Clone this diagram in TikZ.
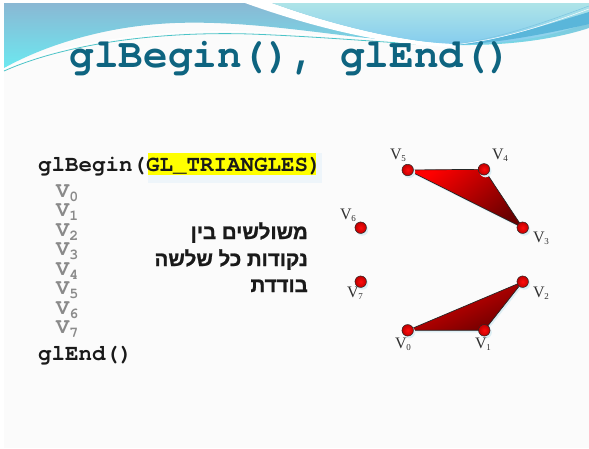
\documentclass[tikz,border=0pt]{standalone}
\usepackage{fontspec}
\setmainfont{Liberation Serif}
\newfontfamily\codefont{texgyrecursor}[Extension=.otf, UprightFont=*-regular, BoldFont=*-bold]
\newfontfamily\hebfont[Script=Hebrew, BoldFont={Liberation Sans Bold}, BoldFeatures={FakeBold=1.2}]{Liberation Sans}
\TeXXeTstate=1
\definecolor{slidebg}{HTML}{FBFBFB}
\definecolor{bandtop}{HTML}{8AB8D4}
\definecolor{bandbot}{HTML}{6CE8F0}
\definecolor{wavetop}{HTML}{AEE4E8}
\definecolor{wavebot}{HTML}{84CCEE}
\definecolor{streak}{HTML}{5AB6DA}
\definecolor{thinline}{HTML}{4CC4C8}
\definecolor{titleblue}{HTML}{0E6480}
\definecolor{codeblack}{HTML}{1A1A1A}
\definecolor{vgray}{HTML}{8A8A8A}
\definecolor{hilite}{HTML}{FFFF00}
\definecolor{hiliteback}{HTML}{EEF5FA}
\definecolor{glow}{HTML}{DCEEF4}
\definecolor{redhi}{HTML}{FF0000}
\definecolor{redmid}{HTML}{DD0000}
\definecolor{redlo}{HTML}{6A0000}
\definecolor{labgray}{HTML}{303030}
% vertex label with a small lowered index
\newcommand\vlabel[1]{V\kern-0.3pt\raisebox{-2.2pt}{\fontsize{9}{9}\selectfont #1}}
% code index, lowered
\newcommand\codesub[1]{V\raisebox{-4pt}{\fontsize{15}{15}\selectfont #1}}
\tikzset{
  title/.style={font=\codefont\bfseries\fontsize{41}{41}\selectfont, text=titleblue, anchor=base, inner sep=0},
  code/.style={font=\codefont\bfseries\fontsize{22.5}{22.5}\selectfont, text=codeblack, anchor=base west, inner sep=0},
  vcode/.style={font=\codefont\bfseries\fontsize{22}{22}\selectfont, text=vgray, anchor=base west, inner sep=0},
  heb/.style={font=\hebfont\bfseries\fontsize{20.5}{20.5}\selectfont, text=codeblack, anchor=base east, inner sep=0},
  vlab/.style={font=\fontsize{16}{16}\selectfont, text=labgray, anchor=base west, inner sep=0},
  dot/.style={circle, inner sep=0, minimum size=11.5pt, draw=black!85, line width=0.5pt,
              inner color=red!95!white, outer color=red!75!black},
  dotglow/.style={circle, inner sep=0, minimum size=12pt, fill=glow},
  tri/.style={draw=black!85, line width=0.7pt, line join=round},
}
\begin{document}
\begin{tikzpicture}[x=1pt, y=-1pt]
\useasboundingbox (0,0) rectangle (589,448);
% slide background
\fill[white] (0,0) rectangle (589,448);
\fill[slidebg] (4,3) rectangle (589,448);

% header waves
\shade[top color=bandtop, bottom color=bandbot]
  (4,3) -- (589,3) -- (589,28) .. controls (540,44) and (480,47) .. (430,44)
  .. controls (340,38) and (260,20) .. (175,23)
  .. controls (100,26) and (40,48) .. (4,68) -- cycle;
\draw[thinline, line width=0.8pt]
  (4,71) .. controls (60,46) and (150,31) .. (250,34)
  .. controls (330,37) and (400,44) .. (455,46);
\draw[white, line width=1pt]
  (4,69) .. controls (60,44) and (150,29) .. (250,32)
  .. controls (330,35) and (400,42) .. (455,44);
\fill[white]
  (245,3) .. controls (320,30) and (400,48) .. (462,47) -- (455,44)
  .. controls (400,42) and (330,24) .. (272,3) -- cycle;
\shade[top color=wavetop, bottom color=wavebot]
  (272,3) .. controls (330,24) and (400,42) .. (455,44)
  .. controls (520,45) and (565,32) .. (589,22) -- (589,3) -- cycle;
\fill[streak]
  (589,12) .. controls (530,30) and (490,42) .. (455,45)
  .. controls (500,43) and (550,33) .. (589,24) -- cycle;
\draw[streak!80!white, line width=0.5pt]
  (589,6) .. controls (540,24) and (500,38) .. (452,45);
\draw[white, line width=0.5pt]
  (589,9) .. controls (540,27) and (500,40) .. (452,45);

% title
\node[title] (ttl) at (291,67) {glBegin(), glEnd()};

% code listing
\fill[hiliteback] (148,153) rectangle (322,183);
\fill[hilite] (148,153) rectangle (316,175);
\node[code] (cbegin) at (38,171.7) {glBegin(GL\_TRIANGLES)};
\node[vcode] (c0) at (56,197.3) {\codesub{0}};
\node[vcode] (c1) at (56,216.5) {\codesub{1}};
\node[vcode] (c2) at (56,236)   {\codesub{2}};
\node[vcode] (c3) at (56,255.5) {\codesub{3}};
\node[vcode] (c4) at (56,275)   {\codesub{4}};
\node[vcode] (c5) at (56,294.5) {\codesub{5}};
\node[vcode] (c6) at (56,314)   {\codesub{6}};
\node[vcode] (c7) at (56,333.5) {\codesub{7}};
\node[code] (cend) at (38,360) {glEnd()};

% Hebrew caption
\node[heb] (h1) at (308,239) {\beginR משולשים בין\endR};
\node[heb] (h2) at (308,266) {\beginR נקודות כל שלשה\endR};
\node[heb] (h3) at (308,292) {\beginR בודדת\endR};

% vertex positions
\coordinate (p0) at (407.7,330.3);
\coordinate (p1) at (484.3,330.3);
\coordinate (p2) at (522.7,281.7);
\coordinate (p3) at (522.7,227.7);
\coordinate (p4) at (484,169.3);
\coordinate (p5) at (407.7,170);
\coordinate (p6) at (360.7,227.7);
\coordinate (p7) at (360.7,281.7);

% soft glow under the triangles
\fill[glow] ([shift={(1.5,2)}]p5) -- ([shift={(1.5,2)}]p4) -- ([shift={(1.5,2)}]p3) -- cycle;
\fill[glow] ([shift={(1.5,2)}]p0) -- ([shift={(1.5,2)}]p1) -- ([shift={(1.5,2)}]p2) -- cycle;

% triangles v3 v4 v5 and v0 v1 v2
\shade[top color=redhi, middle color=redmid, bottom color=redlo, shading angle=40] (p5) -- (p4) -- (p3) -- cycle;
\draw[tri] (p5) -- (p4) -- (p3) -- cycle;
\shade[top color=red!92!black, middle color=red!72!black, bottom color=redlo, shading angle=25] (p0) -- (p1) -- (p2) -- cycle;
\draw[tri] (p0) -- (p1) -- (p2) -- cycle;

% vertices
\foreach \i in {0,...,7} {
  \node[dotglow] at ([shift={(1.5,2)}]p\i) {};
  \node[dot] (v\i) at (p\i) {};
}

% vertex labels
\node[vlab] (l5) at (390,159) {\vlabel{5}};
\node[vlab] (l4) at (492,159) {\vlabel{4}};
\node[vlab] (l3) at (533,242) {\vlabel{3}};
\node[vlab] (l6) at (340,219) {\vlabel{6}};
\node[vlab] (l7) at (347,297) {\vlabel{7}};
\node[vlab] (l2) at (533,297) {\vlabel{2}};
\node[vlab] (l0) at (395,348) {\vlabel{0}};
\node[vlab] (l1) at (475,348) {\vlabel{1}};
\end{tikzpicture}
\end{document}
